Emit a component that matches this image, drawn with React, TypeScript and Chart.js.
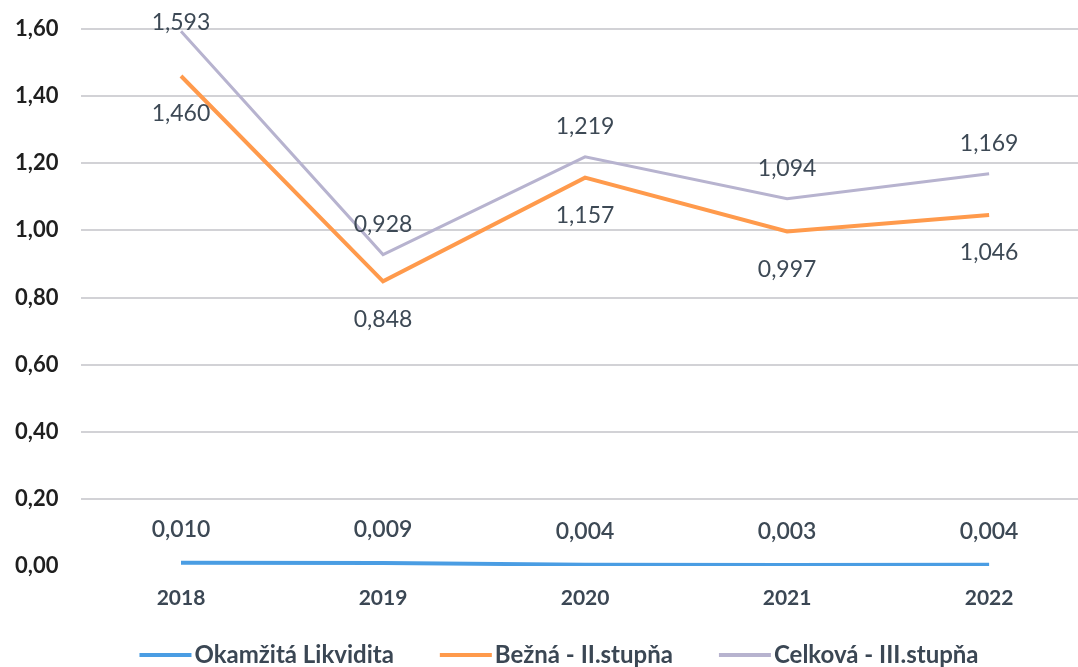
import React, { useEffect, useRef } from "react";
import { Chart, registerables } from "chart.js";

Chart.register(...registerables);

const years = [2018, 2019, 2020, 2021, 2022];
const okamzita = [0.01, 0.009, 0.004, 0.003, 0.004];
const bezna = [1.46, 0.848, 1.157, 0.997, 1.046];
const celkova = [1.593, 0.928, 1.219, 1.094, 1.169];
const yTicks = [0, 0.2, 0.4, 0.6, 0.8, 1.0, 1.2, 1.4, 1.6];
const seriesNames = ["Okamžitá Likvidita", "Bežná - II.stupňa", "Celková - III.stupňa"];

const fmt = (v: number, d: number) => v.toFixed(d).replace(".", ",");

const dataLabelPlugin = {
  id: "dataLabels",
  afterDatasetsDraw(chart: any) {
    const ctx = chart.ctx;
    ctx.save();
    ctx.textAlign = "center";
    ctx.textBaseline = "middle";
    chart.data.datasets.forEach((ds: any, i: number) => {
      const meta = chart.getDatasetMeta(i);
      ctx.font = `${ds.labelWeight} 23px Lato`;
      ctx.fillStyle = "#3d4955";
      meta.data.forEach((pt: any, j: number) => {
        const v = ds.data[j].y;
        const y = Math.max(pt.y + ds.labelOffset, chart.chartArea.top - 6);
        ctx.fillText(fmt(v, 3), pt.x, y);
      });
    });
    ctx.restore();
  },
};

const legendPlugin = {
  id: "customLegend",
  afterDraw(chart: any) {
    const ctx = chart.ctx;
    const lineW = 52;
    const gapText = 3;
    const gapItem = 46;
    ctx.save();
    ctx.font = "bold 24px Lato";
    ctx.textBaseline = "middle";
    ctx.textAlign = "left";
    const items = chart.data.datasets.map((ds: any) => ({
      label: ds.label,
      color: ds.borderColor,
      w: ctx.measureText(ds.label).width,
    }));
    const total =
      items.reduce((s: number, it: any) => s + lineW + gapText + it.w, 0) +
      gapItem * (items.length - 1);
    let x = 559 - total / 2;
    const y = 655;
    items.forEach((it: any) => {
      ctx.fillStyle = it.color;
      ctx.fillRect(x, y - 2, lineW, 4);
      x += lineW + gapText;
      ctx.fillStyle = "#3b4754";
      ctx.fillText(it.label, x, y);
      x += it.w + gapItem;
    });
    ctx.restore();
  },
};

export default function App() {
  const ref = useRef<HTMLCanvasElement>(null);
  useEffect(() => {
    document.body.style.margin = "0";
    const mk = (arr: number[]) => arr.map((v, i) => ({ x: years[i], y: v }));
    const chart = new Chart(ref.current!, {
      type: "line",
      data: {
        datasets: [
          {
            label: seriesNames[0],
            data: mk(okamzita),
            borderColor: "#4a9de3",
            backgroundColor: "#4a9de3",
            borderWidth: 4,
            pointRadius: 0,
            tension: 0,
            labelOffset: -33,
            labelWeight: "600",
          } as any,
          {
            label: seriesNames[1],
            data: mk(bezna),
            borderColor: "#ff9a4c",
            backgroundColor: "#ff9a4c",
            borderWidth: 4,
            pointRadius: 0,
            tension: 0,
            labelOffset: 38,
            labelWeight: "normal",
          } as any,
          {
            label: seriesNames[2],
            data: mk(celkova),
            borderColor: "#b7b3cf",
            backgroundColor: "#b7b3cf",
            borderWidth: 3,
            pointRadius: 0,
            tension: 0,
            labelOffset: -30,
            labelWeight: "normal",
          } as any,
        ],
      },
      options: {
        animation: false,
        responsive: true,
        maintainAspectRatio: false,
        layout: { padding: { left: 15, right: 0, top: 29, bottom: 56 } },
        plugins: {
          legend: { display: false },
          tooltip: { enabled: false },
        },
        scales: {
          x: {
            type: "linear",
            min: 2017.505,
            max: 2022.44,
            afterBuildTicks: (s: any) => {
              s.ticks = years.map((v) => ({ value: v }));
            },
            afterFit: (s: any) => {
              s.height = 45;
            },
            grid: { display: false, drawTicks: false },
            border: { display: false },
            ticks: {
              padding: 20,
              color: "#3b4754",
              font: { family: "Lato", size: 21, weight: "bold" },
              callback: (v: any) => String(v),
            },
          },
          y: {
            min: 0,
            max: 1.6,
            afterBuildTicks: (s: any) => {
              s.ticks = yTicks.map((v) => ({ value: v }));
            },
            afterFit: (s: any) => {
              s.width = 66;
            },
            grid: {
              drawTicks: false,
              lineWidth: 2,
              color: (c: any) => (c.tick && c.tick.value === 0 ? "rgba(0,0,0,0)" : "#d2d2d6"),
            },
            border: { display: false },
            ticks: {
              crossAlign: "far",
              color: "#1f1f1f",
              font: { family: "Lato", size: 22, weight: "bold" },
              callback: (v: any) => fmt(Number(v), 2),
            },
          },
        },
      } as any,
      plugins: [dataLabelPlugin, legendPlugin],
    });
    return () => chart.destroy();
  }, []);
  return (
    <div style={{ position: "absolute", left: 0, top: 0, width: 1078, height: 667, background: "#fff" }}>
      <canvas ref={ref} />
    </div>
  );
}
